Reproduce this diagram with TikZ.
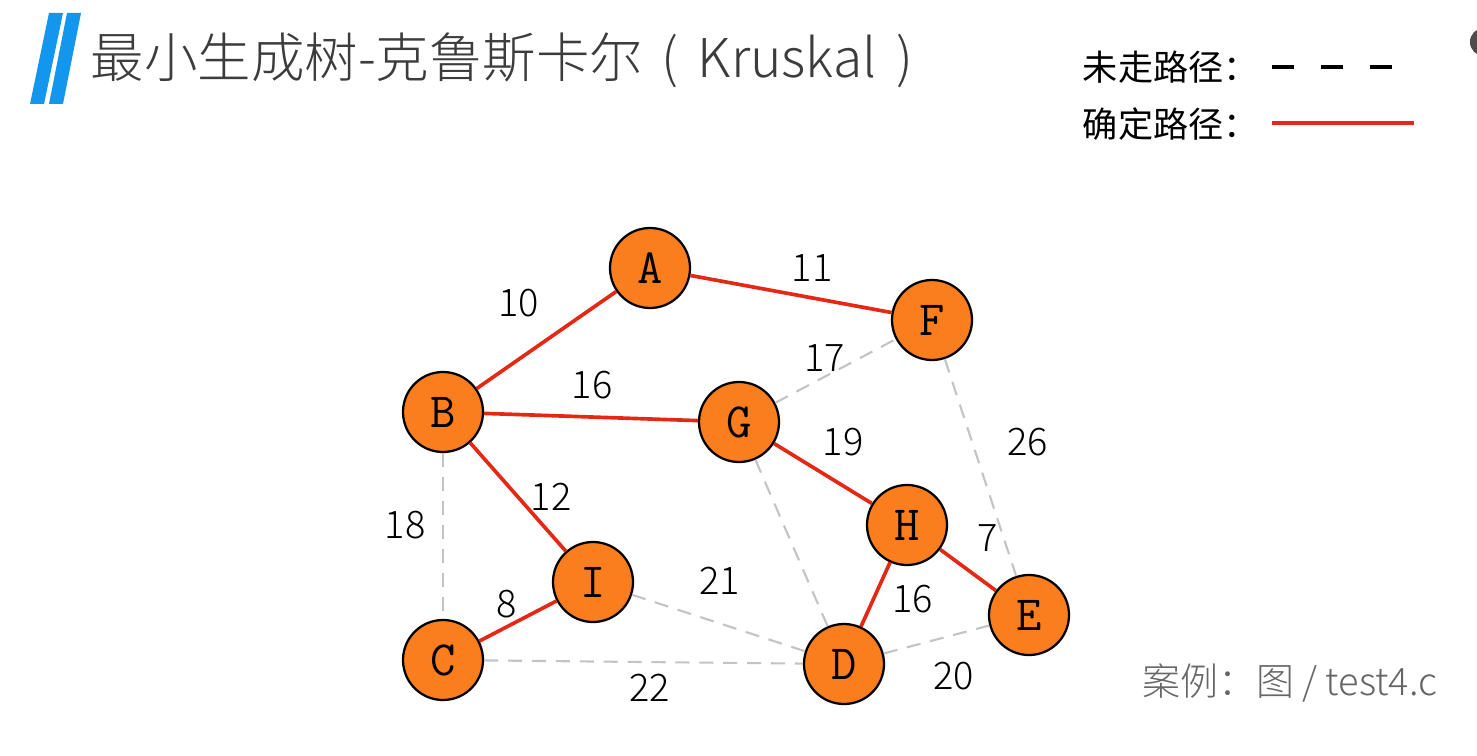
\documentclass[tikz,border=0pt]{standalone}
\usepackage{fontspec}
\setmainfont{Noto Sans CJK SC}
\newfontfamily\lightfont{Noto Sans CJK SC Light}
\usetikzlibrary{arrows,positioning}
\definecolor{nodeorange}{RGB}{250,125,30}
\definecolor{edgered}{RGB}{228,40,20}
\definecolor{dashgray}{RGB}{196,196,196}
\definecolor{titleblue}{RGB}{18,150,238}
\definecolor{textgray}{RGB}{60,60,60}

\begin{document}
\begin{tikzpicture}[x=0.025cm, y=-0.025cm,
  vertex/.style={circle, draw=black, line width=1.6pt, fill=nodeorange, minimum size=2cm, inner sep=0pt, font=\ttfamily\fontsize{35}{35}\selectfont},
  done/.style={draw=edgered, line width=2.6pt},
  todo/.style={draw=dashgray, line width=1.5pt, dash pattern=on 10pt off 7pt},
  weight/.style={font=\lightfont\fontsize{27}{27}\selectfont, text=black, inner sep=2pt}]
  \useasboundingbox (0,0) rectangle (1477,755);
  \fill[white] (0,0) rectangle (1477,755);

  % title
  \fill[titleblue] (49,13) -- (63,13) -- (44,104) -- (30,104) -- cycle;
  \fill[titleblue] (67,13) -- (81,13) -- (63,104) -- (49,104) -- cycle;
  \node[anchor=west, text=textgray, font=\lightfont\fontsize{38}{38}\selectfont] (title) at (86,60) {最小生成树-克鲁斯卡尔\hspace{13pt}(\hspace{14pt}Kruskal\hspace{14pt})};
  \fill[black!70] (1484,42) circle (10pt);

  % legend
  \node[anchor=west, font=\fontsize{25}{25}\selectfont] (todoKey) at (1078,67) {未走路径：};
  \node[anchor=west, font=\fontsize{25}{25}\selectfont] (doneKey) at (1078,124) {确定路径：};
  \coordinate (todoL) at (1272,67);
  \coordinate (todoR) at (1394,67);
  \coordinate (doneL) at (1272,123);
  \coordinate (doneR) at (1414,123);
  \draw[black, line width=2.8pt, dash pattern=on 15.6pt off 19.2pt] (todoL) -- (todoR);
  \draw[done, line width=2.2pt] (doneL) -- (doneR);

  \node[anchor=east, text=black!60, font=\lightfont\fontsize{27}{27}\selectfont] (note) at (1442,683) {案例：图 / test4.c};

  % graph
  \node [vertex] (A) at (650,268) {A};
  \node [vertex] (F) at (932,320) {F};
  \node [vertex] (B) at (443,412) {B};
  \node [vertex] (G) at (739,422) {G};
  \node [vertex] (H) at (907,525) {H};
  \node [vertex] (E) at (1029,615) {E};
  \node [vertex] (I) at (593,582) {I};
  \node [vertex] (C) at (443,660) {C};
  \node [vertex] (D) at (844,664) {D};

  \path (B) edge [todo] node [weight, shift={(-38,-11)}] (wBC) {18} (C);
  \path (G) edge [todo] node [weight, shift={(-11,-13)}] (wGF) {17} (F);
  \path (F) edge [todo] node [weight, shift={(47,-25)}] (wFE) {26} (E);
  \path (I) edge [todo] node [weight, shift={(1,-42)}] (wID) {21} (D);
  \path (G) edge [todo] (D);
  \path (D) edge [todo] node [weight, shift={(17,37)}] (wDE) {20} (E);
  \path (C) edge [todo] node [weight, shift={(6,26)}] (wCD) {22} (D);

  \path (B) edge [done] node [weight, shift={(-28,-37)}] (wAB) {10} (A);
  \path (A) edge [done] node [weight, shift={(21,-26)}] (wAF) {11} (F);
  \path (B) edge [done] node [weight, shift={(1,-32)}] (wBG) {16} (G);
  \path (G) edge [done] node [weight, shift={(20,-31)}] (wGH) {19} (H);
  \path (H) edge [done] node [weight, shift={(20,-32)}] (wHE) {7} (E);
  \path (B) edge [done] node [weight, shift={(33,0)}] (wBI) {12} (I);
  \path (C) edge [done] node [weight, shift={(-11,-17)}] (wCI) {8} (I);
  \path (H) edge [done] node [weight, shift={(37,5)}] (wHD) {16} (D);
\end{tikzpicture}
\end{document}
